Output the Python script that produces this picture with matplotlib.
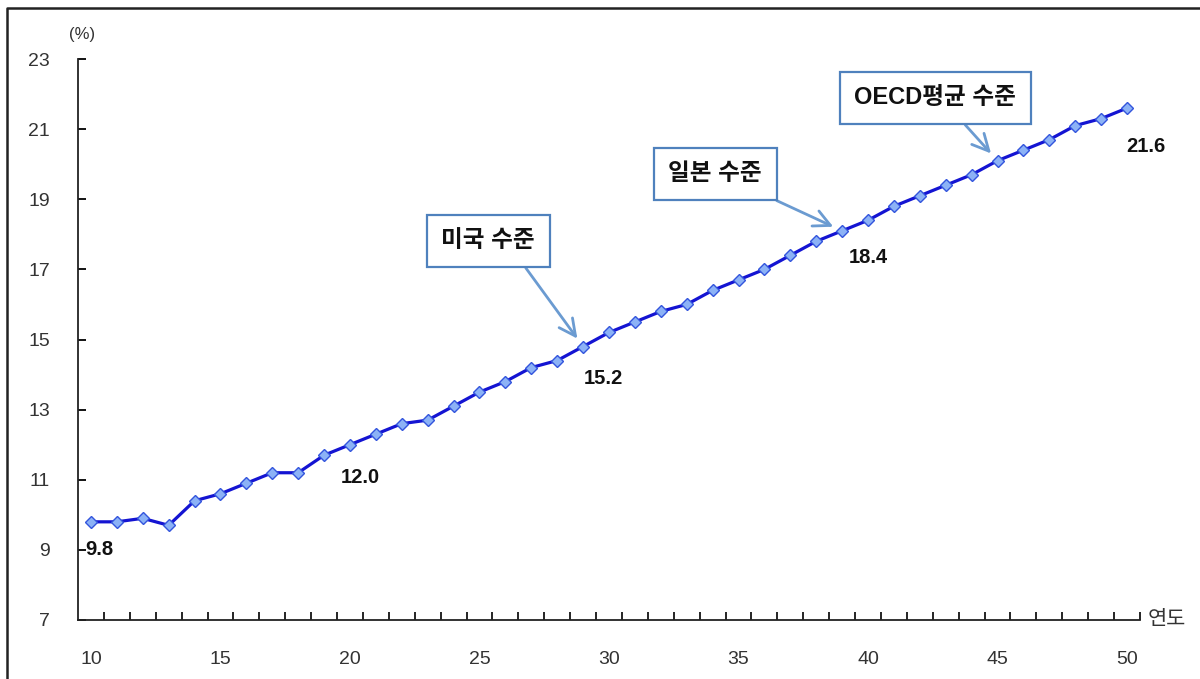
import matplotlib.pyplot as plt
from matplotlib.lines import Line2D
import numpy as np

plt.rcParams['font.family'] = ['Liberation Sans', 'Noto Sans CJK KR']

# series: share (%) by year
years = list(range(10, 51))
share = [9.8, 9.8, 9.9, 9.7, 10.4, 10.6, 10.9, 11.2, 11.2, 11.7,
         12.0, 12.3, 12.6, 12.7, 13.1, 13.5, 13.8, 14.2, 14.4, 14.8,
         15.2, 15.5, 15.8, 16.0, 16.4, 16.7, 17.0, 17.4, 17.8, 18.1,
         18.4, 18.8, 19.1, 19.4, 19.7, 20.1, 20.4, 20.7, 21.1, 21.3,
         21.6]

label_years = [10, 20, 30, 40, 50]
label_offsets = [(8, -28), (10, -33), (-6, -46), (0, -37), (19, -38)]

callout_texts = ['미국 수준', '일본 수준', 'OECD평균 수준']
callout_years = [29, 39, 45]
callout_boxes = [(25.34, 17.81), (34.1, 19.73), (42.59, 21.89)]
callout_relx = [0.78, 0.8, 0.6]

W, H = 1200, 679
fig = plt.figure(figsize=(W / 100, H / 100), dpi=100)
ax = fig.add_axes([78 / W, 1 - 620 / H, (1140 - 78) / W, (620 - 59) / H])

ax.plot(years, share, color='#1414d2', lw=2.3, marker='D', ms=6.5,
        mfc='#8cb2f6', mec='#3355dd', mew=1.0, zorder=3)

ax.set_xlim(9.5, 50.5)
ax.set_ylim(7, 23)
for s in ['top', 'right']:
    ax.spines[s].set_visible(False)
for s in ['left', 'bottom']:
    ax.spines[s].set_linewidth(1.3)
    ax.spines[s].set_color('#222222')

ax.set_yticks(range(7, 24, 2))
ax.tick_params(axis='y', direction='in', length=6, width=1.3, pad=20,
               labelsize=14, labelcolor='#333333')
ax.set_xticks(range(10, 51, 5))
ax.set_xticks(np.arange(10.5, 51, 1), minor=True)
ax.tick_params(axis='x', which='major', length=0, pad=22,
               labelsize=14, labelcolor='#333333')
ax.tick_params(axis='x', which='minor', direction='in', length=6, width=1.2)

# value labels under selected points
for yr, (dx, dy) in zip(label_years, label_offsets):
    v = share[years.index(yr)]
    ax.annotate(f'{v:.1f}', xy=(yr, v), xytext=(dx, dy),
                textcoords='offset pixels', ha='center', va='center',
                fontsize=14.5, fontweight='bold', color='#111111')

# callout boxes with arrows
for txt, yr, pos, rx in zip(callout_texts, callout_years, callout_boxes, callout_relx):
    v = share[years.index(yr)]
    ax.annotate(txt, xy=(yr, v), xytext=pos, textcoords='data',
                ha='center', va='center', fontsize=17, fontweight='bold',
                color='#111111',
                bbox=dict(boxstyle='square,pad=0.62', fc='white',
                          ec='#4f81bd', lw=1.6),
                arrowprops=dict(arrowstyle='->,head_length=0.7,head_width=0.35',
                                color='#6b9bd1', lw=2.0, relpos=(rx, 0),
                                shrinkA=0, shrinkB=7),
                zorder=4)

fig.text(82 / W, 1 - 35 / H, '(%)', ha='center', va='center',
         fontsize=12, color='#333333')
fig.text(1167 / W, 1 - 619 / H, '연도', ha='center', va='center',
         fontsize=15, color='#333333')

# outer frame (top and left edges)
fig.add_artist(Line2D([7 / W, 7 / W, 1], [0, 1 - 8 / H, 1 - 8 / H],
                      transform=fig.transFigure, color='#222222', lw=1.8))

fig.savefig('out.png', dpi=100)
